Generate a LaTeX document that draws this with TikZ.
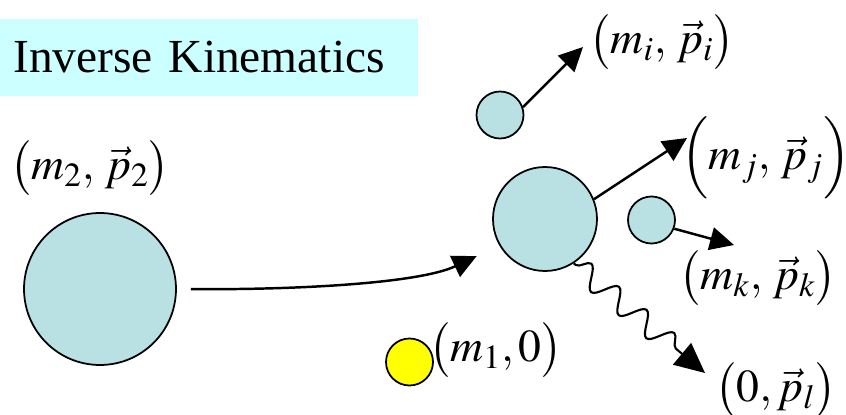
\documentclass[tikz,border=0pt]{standalone}
\usepackage{mathptmx}
\usepackage[no-math]{fontspec}
\setmainfont{Liberation Serif}
\usepackage{xcolor}
\usetikzlibrary{arrows.meta,decorations.pathmorphing}

\definecolor{ballblue}{RGB}{185,224,227}
\definecolor{titlecyan}{RGB}{204,255,255}
\definecolor{photonyellow}{RGB}{255,255,0}

\begin{document}
\begin{tikzpicture}[
    x=0.02cm, y=-0.02cm,
    ball/.style={circle, draw=black, fill=ballblue, line width=1pt, inner sep=0pt},
    tag/.style={inner sep=0pt, font=\fontsize{26}{30}\selectfont},
    arrow/.style={-{Triangle[length=0.48cm, width=0.46cm]}, line width=1.4pt},
    wavy/.style={-{Triangle[length=0.6cm, width=0.56cm]}, line width=1.2pt, decorate,
        decoration={snake, amplitude=0.22cm, segment length=0.72cm, pre length=0.05cm, post length=0.5cm}}
]
    \useasboundingbox (0,0) rectangle (846,415);

    \node [anchor=west, fill=titlecyan, minimum height=1.54cm, inner xsep=0.26cm,
           text width=7.84cm, align=left, font=\fontsize{27}{32}\selectfont] (title) at (0,57.5) {Inverse Kinematics};

    \node [ball, minimum size=3.04cm] (beam) at (100,289) {};
    \node [ball, minimum size=2.08cm] (nucleus) at (545,219) {};
    \node [ball, minimum size=0.94cm] (frag i) at (500,115) {};
    \node [ball, minimum size=0.94cm] (frag k) at (651.5,220) {};
    \node [ball, fill=photonyellow, minimum size=0.94cm] (target) at (409.5,362) {};

    \node [tag] (l2) at (90,168) {$\bigl(m_2,\,\vec{p}_2\bigr)$};
    \node [tag] (li) at (662,42) {$\bigl(m_i,\,\vec{p}_i\bigr)$};
    \node [tag] (lj) at (766,158) {$\Bigl(m_j,\,\vec{p}_j\Bigr)$};
    \node [tag] (lk) at (758,278) {$\bigl(m_k,\,\vec{p}_k\bigr)$};
    \node [tag] (ll) at (776,390) {$\bigl(0,\vec{p}_l\bigr)$};
    \node [tag] (l1) at (496,350) {$\bigl(m_1,0\bigr)$};

    \coordinate (tip i) at (583,47);
    \coordinate (tip j) at (687,138);
    \coordinate (tip k) at (734,245);
    \coordinate (tip l) at (705,373);

    \draw [arrow, shorten <=0.28cm, shorten >=0.5cm] (beam.east) .. controls (300,290) and (420,283) .. (nucleus.210);
    \draw [arrow] (frag i.19) -- (tip i);
    \draw [arrow] (nucleus.22) -- (tip j);
    \draw [arrow] (frag k.-21) -- (tip k);
    \draw [wavy] (nucleus.-57) -- (tip l);
\end{tikzpicture}
\end{document}
